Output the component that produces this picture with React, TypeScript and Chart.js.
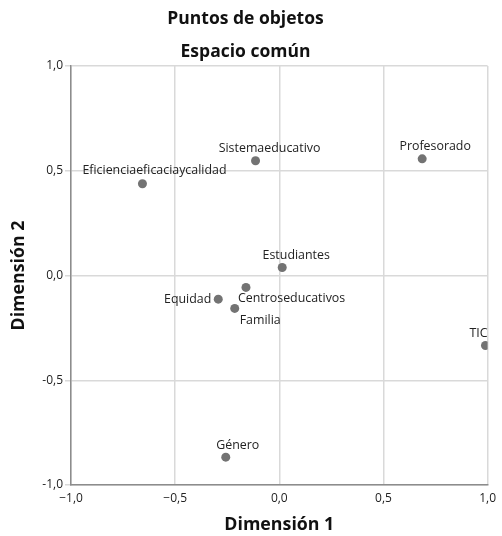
import React, { useEffect, useRef } from "react";
import { Chart, registerables } from "chart.js";

Chart.register(...registerables);

const objectLabels = [
  "Eficienciaeficaciaycalidad",
  "Sistemaeducativo",
  "Profesorado",
  "Estudiantes",
  "Centroseducativos",
  "Equidad",
  "Familia",
  "TIC",
  "Género",
];
const dim1 = [-0.657, -0.114, 0.686, 0.014, -0.16, -0.293, -0.214, 0.99, -0.257];
const dim2 = [0.438, 0.548, 0.557, 0.038, -0.057, -0.113, -0.157, -0.334, -0.867];
const axisTicks = [-1, -0.5, 0, 0.5, 1];

const titleText = "Puntos de objetos";
const subtitleText = "Espacio común";
const xTitle = "Dimensión 1";
const yTitle = "Dimensión 2";

// label placement relative to each point (styling, in px)
const LABEL_PLACEMENT: { dx: number; dy: number; align: CanvasTextAlign }[] = [
  { dx: 12, dy: -13, align: "center" },
  { dx: 14, dy: -12, align: "center" },
  { dx: 13, dy: -12, align: "center" },
  { dx: 14, dy: -12, align: "center" },
  { dx: -8, dy: 11, align: "left" },
  { dx: -7, dy: 0, align: "right" },
  { dx: 5, dy: 12, align: "left" },
  { dx: 2, dy: -12, align: "right" },
  { dx: 12, dy: -12, align: "center" },
];

const FONT = "'Open Sans', 'DejaVu Sans', sans-serif";

const fmt = (v: number, minus: string) => {
  const s = Math.abs(v).toFixed(1).replace(".", ",");
  return v < 0 ? minus + s : s;
};

const pointLabelPlugin = {
  id: "pointLabels",
  afterDatasetsDraw(chart: any) {
    const ctx = chart.ctx;
    const meta = chart.getDatasetMeta(0);
    ctx.save();
    ctx.font = `12.4px ${FONT}`;
    ctx.fillStyle = "#222";
    ctx.textBaseline = "middle";
    meta.data.forEach((pt: any, i: number) => {
      const p = LABEL_PLACEMENT[i];
      ctx.textAlign = p.align;
      ctx.fillText(objectLabels[i], pt.x + p.dx, pt.y + p.dy);
    });
    ctx.restore();
  },
};

export default function App() {
  const ref = useRef<HTMLCanvasElement | null>(null);
  useEffect(() => {
    if (!ref.current) return;
    const chart = new Chart(ref.current, {
      type: "scatter",
      data: {
        datasets: [
          {
            data: dim1.map((x, i) => ({ x, y: dim2[i] })),
            backgroundColor: "#737373",
            borderWidth: 0,
            pointRadius: 4.5,
          },
        ],
      },
      options: {
        animation: false,
        responsive: false,
        layout: { padding: { left: 0, right: 11, top: 0, bottom: 0 } },
        plugins: {
          legend: { display: false },
          tooltip: { enabled: false },
          title: {
            display: true,
            text: titleText,
            color: "#111",
            font: { family: FONT, size: 17.5, weight: "bold", lineHeight: 1.2 },
            padding: { top: 8.5, bottom: 3 },
          },
          subtitle: {
            display: true,
            text: subtitleText,
            color: "#111",
            font: { family: FONT, size: 17.5, weight: "bold", lineHeight: 1.2 },
            padding: { top: 9, bottom: 3.5 },
          },
        },
        scales: {
          x: {
            type: "linear",
            min: -1,
            max: 1,
            afterBuildTicks: (s: any) => {
              s.ticks = axisTicks.map((v) => ({ value: v }));
            },
            afterFit: (s: any) => {
              s.height = 51;
            },
            ticks: {
              color: "#222",
              font: { family: FONT, size: 12 },
              padding: 6,
              maxRotation: 0,
              callback: (v: any) => fmt(Number(v), "−"),
            },
            grid: { color: "#d9d9d9", lineWidth: 1.5, drawTicks: false },
            border: { color: "#8c8c8c", width: 1.5 },
            title: {
              display: true,
              text: xTitle,
              color: "#111",
              font: { family: FONT, size: 17.8, weight: "bold", lineHeight: 1.2 },
              padding: { top: 0, bottom: 0 },
            },
          },
          y: {
            type: "linear",
            min: -1,
            max: 1,
            afterBuildTicks: (s: any) => {
              s.ticks = axisTicks.map((v) => ({ value: v }));
            },
            afterFit: (s: any) => {
              s.width = 71;
            },
            ticks: {
              color: "#222",
              font: { family: FONT, size: 12 },
              padding: 2,
              callback: (v: any) => fmt(Number(v), "-"),
            },
            grid: { color: "#d9d9d9", lineWidth: 1.5, tickLength: 6 },
            border: { color: "#8c8c8c", width: 1.5 },
            title: {
              display: true,
              text: yTitle,
              color: "#111",
              font: { family: FONT, size: 17.8, weight: "bold", lineHeight: 1.2 },
              padding: { top: 8, bottom: 0 },
            },
          },
        },
      },
      plugins: [pointLabelPlugin],
    } as any);
    return () => chart.destroy();
  }, []);
  return (
    <div style={{ position: "absolute", left: 0, top: 0, width: 502, height: 536, background: "#fff" }}>
      <canvas ref={ref} width={502} height={536} />
    </div>
  );
}
